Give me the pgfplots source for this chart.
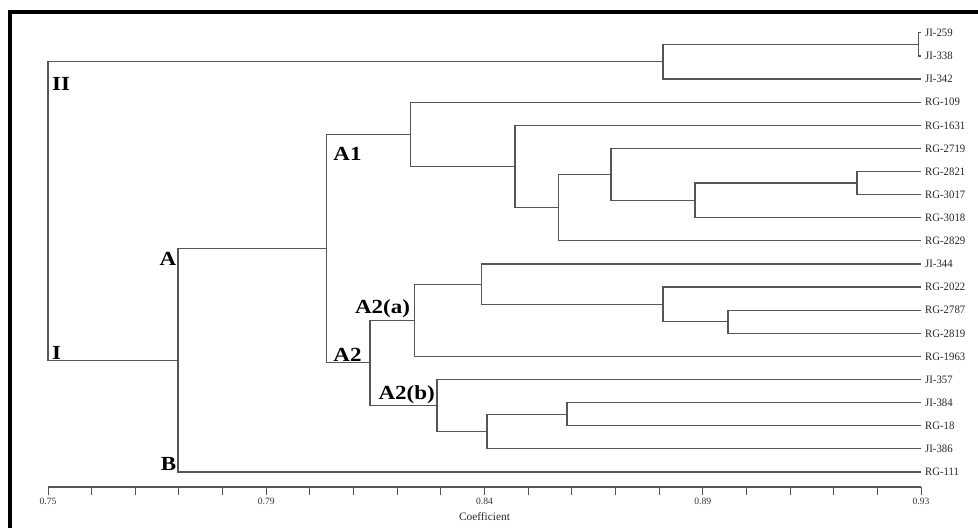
\documentclass[border=0pt]{standalone}
\usepackage{fontspec}
\setmainfont{Liberation Serif}
\usepackage{pgfplots}
\pgfplotsset{compat=1.18}
\definecolor{ln}{HTML}{555555}
\begin{document}
\begin{tikzpicture}
\useasboundingbox (-36pt,-30.75pt) rectangle (697.5pt,365.25pt);
\begin{axis}[
  at={(0,0)}, anchor=south west,
  scale only axis, width=654.75pt, height=351pt,
  xmin=0.75, xmax=0.93, ymin=-0.6, ymax=19.65, y dir=reverse,
  clip=false,
  axis x line*=bottom, axis y line*=right,
  y axis line style={draw=none},
  x axis line style={draw=ln, line width=0.9pt},
  xtick={0.75,0.795,0.84,0.885,0.93},
  xticklabels={0.75,0.79,0.84,0.89,0.93},
  minor x tick num=4,
  tick align=outside,
  major tick length=6pt, minor tick length=6pt,
  xtick style={draw=ln, line width=0.7pt},
  xticklabel style={font=\fontsize{7.2}{8}\selectfont, color=black!80, inner sep=1pt, yshift=-1pt},
  ytick={0,...,19},
  yticklabels={JI-259,JI-338,JI-342,RG-109,RG-1631,RG-2719,RG-2821,RG-3017,RG-3018,RG-2829,JI-344,RG-2022,RG-2787,RG-2819,RG-1963,JI-357,JI-384,RG-18,JI-386,RG-111},
  ytick style={draw=none},
  yticklabel style={font=\fontsize{8.5}{9}\selectfont, color=black!85, inner xsep=1pt, xshift=-4pt, xscale=0.95},
  xlabel={Coefficient},
  xlabel style={at={(axis description cs:0.5,0)}, anchor=center, yshift=-22.5pt, font=\fontsize{8.5}{9}\selectfont, color=black!85},
  seg/.style={draw=ln, line width=0.9pt, mark=none, solid},
]
% JI-259 / JI-338
\addplot[seg] coordinates {(0.93,0) (0.9295,0) (0.9295,1) (0.93,1)};
% with JI-342
\addplot[seg] coordinates {(0.9295,0.5) (0.8768,0.5) (0.8768,2) (0.93,2)};
% RG-2821 / RG-3017
\addplot[seg] coordinates {(0.93,6) (0.9168,6) (0.9168,7) (0.93,7)};
\addplot[seg] coordinates {(0.9168,6.5) (0.8834,6.5) (0.8834,8) (0.93,8)};
\addplot[seg] coordinates {(0.93,5) (0.8661,5) (0.8661,7.25) (0.8834,7.25)};
\addplot[seg] coordinates {(0.8661,6.125) (0.8552,6.125) (0.8552,9) (0.93,9)};
\addplot[seg] coordinates {(0.93,4) (0.8463,4) (0.8463,7.5625) (0.8552,7.5625)};
% A1
\addplot[seg] coordinates {(0.93,3) (0.8248,3) (0.8248,5.78) (0.8463,5.78)};
% RG-2787 / RG-2819
\addplot[seg] coordinates {(0.93,12) (0.8902,12) (0.8902,13) (0.93,13)};
\addplot[seg] coordinates {(0.93,11) (0.8768,11) (0.8768,12.5) (0.8902,12.5)};
\addplot[seg] coordinates {(0.93,10) (0.8393,10) (0.8393,11.75) (0.8768,11.75)};
% A2(a)
\addplot[seg] coordinates {(0.8393,10.875) (0.8255,10.875) (0.8255,14) (0.93,14)};
% JI-384 / RG-18
\addplot[seg] coordinates {(0.93,16) (0.8570,16) (0.8570,17) (0.93,17)};
\addplot[seg] coordinates {(0.8570,16.5) (0.8405,16.5) (0.8405,18) (0.93,18)};
% A2(b)
\addplot[seg] coordinates {(0.93,15) (0.8302,15) (0.8302,17.25) (0.8405,17.25)};
% A2
\addplot[seg] coordinates {(0.8255,12.4375) (0.8164,12.4375) (0.8164,16.125) (0.8302,16.125)};
% A
\addplot[seg] coordinates {(0.8248,4.39) (0.8075,4.39) (0.8075,14.28) (0.8164,14.28)};
% I
\addplot[seg] coordinates {(0.8075,9.336) (0.7768,9.336) (0.7768,19) (0.93,19)};
% root
\addplot[seg] coordinates {(0.8768,1.25) (0.75,1.25) (0.75,14.168) (0.7768,14.168)};

\begin{scope}[every node/.style={font=\fontsize{15}{15}\selectfont\bfseries, inner sep=0pt, xscale=1.15}]
\node[anchor=north west] at (axis cs:0.7508,1.9) {II};
\node[anchor=base west] at (axis cs:0.7508,14.12) {I};
\node[anchor=north east] at (axis cs:0.7765,9.5) {A};
\node[anchor=base east] at (axis cs:0.7765,18.95) {B};
\node[anchor=north west] at (axis cs:0.8088,4.95) {A1};
\node[anchor=base west] at (axis cs:0.8088,14.22) {A2};
\node[anchor=base east] at (axis cs:0.8247,12.15) {A2(a)};
\node[anchor=base east] at (axis cs:0.8298,15.88) {A2(b)};
\end{scope}
\end{axis}
\draw[line width=3pt] (-28.5pt,-30.75pt) -- (-28.5pt,356.6pt) -- (697.5pt,356.6pt);
\end{tikzpicture}
\end{document}
